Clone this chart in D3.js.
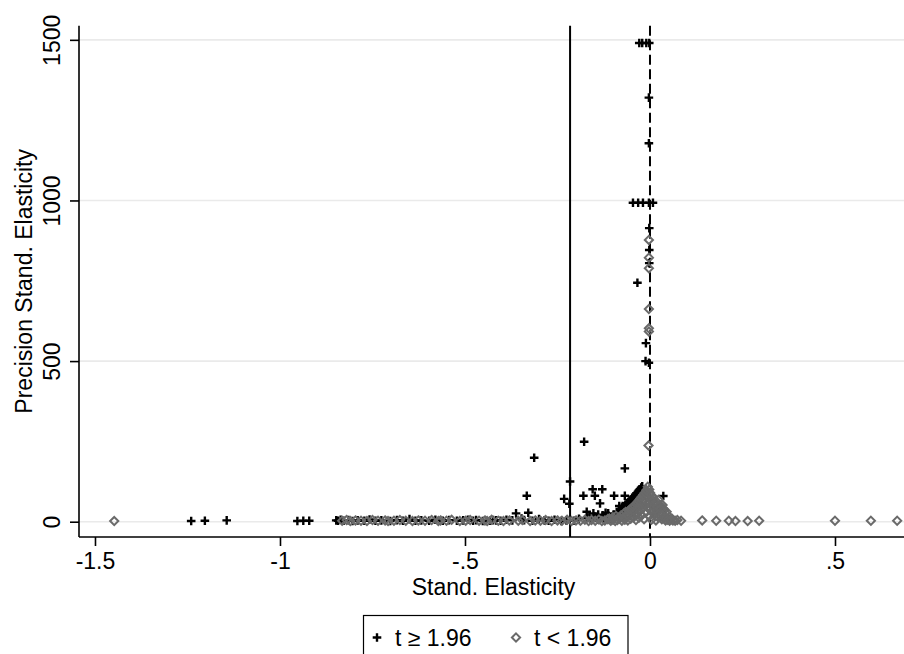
<!DOCTYPE html>
<html>
<head>
<meta charset="utf-8">
<script src="https://cdn.jsdelivr.net/npm/d3@7"></script>
<style>
  html, body { margin: 0; padding: 0; background: #fff; }
  svg { display: block; }
  text { font-family: "Liberation Sans", Arial, sans-serif; fill: #000; }
</style>
</head>
<body>
<svg id="chart" width="904" height="654"></svg>
<script>
// Estimates with t >= 1.96: [standardised elasticity, precision]
const significant = [
  [-0.029,1490],[-0.021,1490],[-0.010,1490],[-0.002,1490],
  [-0.003,1320],[-0.003,1178],
  [-0.046,993],[-0.032,993],[-0.019,993],[-0.003,993],[0.008,993],
  [-0.002,914],[-0.002,846],[-0.002,805],[-0.034,744],[-0.011,556],[-0.012,500],[-0.003,495],
  [-0.178,249],[-0.313,199],[-0.068,166],[-0.216,125],[-0.333,81],[-0.232,71],[-0.218,56],
  [-0.180,81],[-0.155,101],[-0.149,81],[-0.129,101],[-0.097,81],[-0.068,81],[0.036,80],[-0.135,57],
  [-1.240,2],[-1.203,3],[-1.144,4],[-0.953,2],[-0.937,3],[-0.921,3],
  [-0.848,4],[-0.843,3],[-0.836,6],[-0.828,3],[-0.815,5],[-0.804,2],[-0.790,4],[-0.772,3],
  [-0.758,7],[-0.742,3],[-0.726,4],[-0.702,2],[-0.684,5],[-0.668,3],[-0.650,8],[-0.634,3],
  [-0.618,4],[-0.597,3],[-0.580,6],[-0.560,3],[-0.543,5],[-0.522,3],[-0.505,4],[-0.492,6],
  [-0.478,3],[-0.470,5],[-0.452,2],[-0.432,3],[-0.424,5],[-0.416,4],[-0.404,3],[-0.388,6],
  [-0.372,4],[-0.362,26],[-0.347,10],[-0.329,28],[-0.340,5],[-0.318,3],[-0.300,8],[-0.285,4],
  [-0.274,3],[-0.258,6],[-0.240,2],[-0.226,4],[-0.205,3],[-0.192,9],[-0.171,31],[-0.164,18],
  [-0.153,26],[-0.146,12],[-0.140,6],[-0.128,20],[-0.120,28],[-0.113,26],[-0.106,14],[-0.098,22],
  [-0.090,30],[-0.087,18],[-0.083,49],[-0.080,38],[-0.076,44],[-0.074,49],[-0.070,47],[-0.066,53],
  [-0.062,58],[-0.058,62],[-0.054,66],[-0.050,70],[-0.047,74],[-0.044,79],[-0.040,84],[-0.036,89],
  [-0.033,93],[-0.030,97],[-0.027,101],[-0.024,106],[-0.021,110],[-0.060,42],[-0.055,48],
  [-0.050,54],[-0.045,60],[-0.040,66],[-0.035,72],[-0.030,80],[-0.026,88],[-0.022,94],
  [-0.170,12],[-0.160,8],[-0.150,16],[-0.140,22],[-0.125,12],[-0.115,18],[-0.108,8],
  [-0.095,12],[-0.084,26],[-0.078,32],[-0.072,36]
];

// Estimates with t < 1.96
const insignificant = [
  [-1.448,2],
  [-0.832,3],[-0.820,5],[-0.810,2],[-0.796,4],[-0.781,3],[-0.765,2],[-0.750,5],[-0.735,3],
  [-0.716,4],[-0.708,2],[-0.692,3],[-0.676,5],[-0.660,3],[-0.642,2],[-0.626,4],[-0.608,3],
  [-0.590,5],[-0.572,2],[-0.566,4],[-0.550,3],[-0.536,6],[-0.514,2],[-0.498,3],[-0.486,5],
  [-0.462,3],[-0.446,4],[-0.440,2],[-0.428,6],[-0.410,3],[-0.396,2],[-0.380,4],[-0.356,3],
  [-0.345,5],[-0.324,2],[-0.310,4],[-0.296,3],[-0.282,5],[-0.266,2],[-0.250,4],[-0.238,3],
  [-0.224,6],[-0.212,2],[-0.200,4],[-0.188,3],[-0.176,6],[-0.166,2],[-0.158,5],[-0.148,3],
  [-0.138,7],[-0.130,2],[-0.122,4],[-0.114,8],[-0.106,3],[-0.100,6],[-0.094,2],[-0.088,5],
  [-0.082,9],[-0.076,3],[-0.072,12],[-0.068,6],[-0.064,16],[-0.060,4],[-0.056,22],[-0.052,9],
  [-0.048,28],[-0.044,14],[-0.040,36],[-0.038,5],[-0.036,24],[-0.032,44],[-0.030,12],[-0.028,32],
  [-0.024,52],[-0.022,20],[-0.020,40],[-0.018,64],[-0.016,8],[-0.014,50],[-0.012,80],[-0.010,30],
  [-0.008,92],[-0.006,109],[-0.006,60],[-0.004,42],[-0.002,100],[-0.002,18],[0.000,90],[0.000,70],
  [0.002,52],[0.004,32],[0.004,6],[0.006,80],[0.009,73],[0.010,44],[0.012,22],[0.014,60],
  [0.016,4],[0.018,62],[0.020,36],[0.022,14],[0.023,68],[0.026,48],[0.027,52],[0.030,28],
  [0.032,8],[0.034,52],[0.036,40],[0.038,36],[0.040,18],[0.042,4],[0.045,31],[0.047,21],
  [0.050,10],[0.053,3],[0.059,10],[0.062,4],[0.068,3],[0.074,5],[0.084,3],
  [-0.110,10],[-0.100,14],[-0.092,18],[-0.085,12],[-0.078,20],[-0.070,26],[-0.066,30],
  [-0.062,22],[-0.058,34],[-0.054,38],[-0.050,42],[-0.046,46],[-0.042,50],[-0.038,56],
  [-0.034,60],[-0.030,66],[-0.026,72],[-0.022,78],[-0.018,84],[-0.014,90],[-0.010,98],
  [0.002,84],[0.006,64],[0.012,54],[0.016,30],[0.020,46],[0.024,24],[0.028,40],[0.033,20],
  [0.038,12],[0.044,12],[0.048,6],[0.056,6],
  [0.141,4],[0.179,3],[0.213,3],[0.231,2],[0.264,2],[0.295,3],[0.500,3],[0.597,3],[0.668,3],
  [-0.003,877],[-0.003,822],[-0.003,789],[-0.003,662],[-0.003,602],[-0.003,592],[-0.004,237]
];

// Axis ticks and labels
const xTicks = [-1.5, -1, -0.5, 0, 0.5];
const xTickLabels = ["-1.5", "-1", "-.5", "0", ".5"];
const yTicks = [0, 500, 1000, 1500];
const yTickLabels = ["0", "500", "1000", "1500"];

// Reference lines: mean effect and zero
const meanEffect = -0.216;
const zeroLine = 0;

const legendLabels = ["t \u2265 1.96", "t < 1.96"];

const svg = d3.select("#chart");
const plot = { left: 79, right: 904, top: 25.7, bottom: 537 };
const fontSize = 23;

const x = d3.scaleLinear().domain([-1.5432, 0.6865]).range([plot.left, plot.right]);
const y = d3.scaleLinear().domain([-47.6, 1544]).range([plot.bottom, plot.top]);

// Horizontal gridlines
svg.append("g").selectAll("line").data(yTicks).join("line")
  .attr("x1", plot.left).attr("x2", plot.right)
  .attr("y1", d => y(d)).attr("y2", d => y(d))
  .attr("stroke", "#eaeaea").attr("stroke-width", 1.6);

// Vertical reference lines
svg.append("line")
  .attr("x1", x(meanEffect)).attr("x2", x(meanEffect))
  .attr("y1", plot.top).attr("y2", plot.bottom)
  .attr("stroke", "#000").attr("stroke-width", 2);
svg.append("line")
  .attr("x1", x(zeroLine)).attr("x2", x(zeroLine))
  .attr("y1", plot.top).attr("y2", plot.bottom)
  .attr("stroke", "#000").attr("stroke-width", 2)
  .attr("stroke-dasharray", "10,4.5");

// Marker shapes
const plusPath = "M-4.3,0H4.3M0,-4.3V4.3";
const diamondPath = "M0,-4.1L4.1,0L0,4.1L-4.1,0Z";
const diamondColor = "#6a6a6a";

svg.append("g").selectAll("path").data(significant).join("path")
  .attr("d", plusPath)
  .attr("transform", d => `translate(${x(d[0])},${y(d[1])})`)
  .attr("stroke", "#000").attr("stroke-width", 2.4).attr("fill", "none");

svg.append("g").selectAll("path").data(insignificant).join("path")
  .attr("d", diamondPath)
  .attr("transform", d => `translate(${x(d[0])},${y(d[1])})`)
  .attr("stroke", diamondColor).attr("stroke-width", 2).attr("fill", "none");

// X axis
const xAxis = d3.axisBottom(x).tickValues(xTicks)
  .tickFormat((d, i) => xTickLabels[i]).tickSize(9).tickSizeOuter(0);
const gx = svg.append("g").attr("transform", `translate(0,${plot.bottom})`).call(xAxis);
gx.select(".domain").attr("stroke", "#000").attr("stroke-width", 1.6)
  .attr("d", `M${plot.left},0H${plot.right}`);
gx.selectAll(".tick line").attr("stroke", "#000").attr("stroke-width", 1.6);
gx.selectAll(".tick text").attr("y", 32).attr("dy", 0)
  .style("font-size", fontSize + "px").style("font-family", '"Liberation Sans", Arial, sans-serif')
  .attr("fill", "#000");

// Y axis
const yAxis = d3.axisLeft(y).tickValues(yTicks)
  .tickFormat((d, i) => yTickLabels[i]).tickSize(9).tickSizeOuter(0);
const gy = svg.append("g").attr("transform", `translate(${plot.left},0)`).call(yAxis);
gy.select(".domain").attr("stroke", "#000").attr("stroke-width", 1.6)
  .attr("d", `M0,${plot.top}V${plot.bottom}`);
gy.selectAll(".tick line").attr("stroke", "#000").attr("stroke-width", 1.6);
gy.selectAll(".tick text")
  .attr("x", null).attr("dy", null)
  .attr("transform", "translate(-19,0) rotate(-90)")
  .attr("text-anchor", "middle").attr("y", 0)
  .style("font-size", fontSize + "px").style("font-family", '"Liberation Sans", Arial, sans-serif')
  .attr("fill", "#000");

// Axis titles
svg.append("text")
  .attr("x", (plot.left + plot.right) / 2 + 2).attr("y", 595)
  .attr("text-anchor", "middle").style("font-size", fontSize + "px")
  .text("Stand. Elasticity");
svg.append("text")
  .attr("transform", `translate(32,${(plot.top + plot.bottom) / 2}) rotate(-90)`)
  .attr("text-anchor", "middle").style("font-size", fontSize + "px")
  .text("Precision Stand. Elasticity");

// Legend
const legend = svg.append("g");
legend.append("rect")
  .attr("x", 363.5).attr("y", 615.5).attr("width", 264.5).attr("height", 60)
  .attr("fill", "#fff").attr("stroke", "#000").attr("stroke-width", 1.2);
legend.append("path").attr("d", plusPath)
  .attr("transform", "translate(377,637.5)")
  .attr("stroke", "#000").attr("stroke-width", 2.4).attr("fill", "none");
legend.append("text").attr("x", 395).attr("y", 645.5)
  .style("font-size", fontSize + "px").text(legendLabels[0]);
legend.append("path").attr("d", diamondPath)
  .attr("transform", "translate(516,637.5)")
  .attr("stroke", diamondColor).attr("stroke-width", 2).attr("fill", "none");
legend.append("text").attr("x", 534).attr("y", 645.5)
  .style("font-size", fontSize + "px").text(legendLabels[1]);
</script>
</body>
</html>
